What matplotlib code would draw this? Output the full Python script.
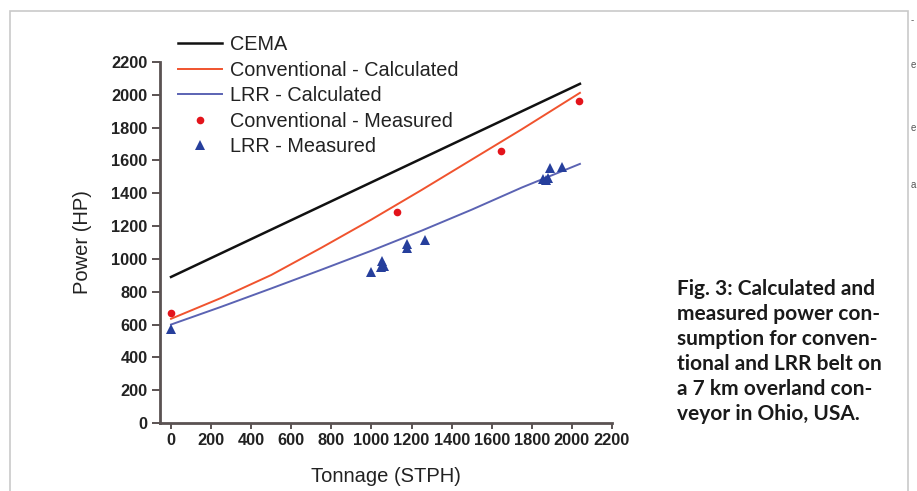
import numpy as np
import matplotlib.pyplot as plt
from matplotlib.patches import Rectangle

# calculated curves
cema_x = [0, 2040]
cema_y = [890, 2067]
conv_calc_x = [0, 250, 500, 750, 1000, 1250, 1500, 1750, 2040]
conv_calc_y = [635, 762, 902, 1068, 1240, 1420, 1605, 1790, 2012]
lrr_calc_x = [0, 250, 500, 750, 1000, 1250, 1500, 1750, 2040]
lrr_calc_y = [600, 708, 820, 934, 1050, 1172, 1300, 1435, 1579]

# measured points
conv_meas_x = [0, 1127, 1648, 2035]
conv_meas_y = [670, 1287, 1660, 1965]
lrr_meas_x = [0, 998, 1050, 1055, 1065, 1175, 1175, 1267, 1855, 1870, 1880, 1890, 1950]
lrr_meas_y = [575, 921, 950, 988, 958, 1065, 1090, 1116, 1490, 1480, 1494, 1555, 1558]

x_ticks = list(range(0, 2201, 200))
y_ticks = list(range(0, 2201, 200))

caption = ("Fig. 3: Calculated and\nmeasured power con-\nsumption for conven-\n"
           "tional and LRR belt on\na 7 km overland con-\nveyor in Ohio, USA.")

plt.rcParams['font.family'] = ['Liberation Sans', 'DejaVu Sans']

W, H = 917, 491
fig = plt.figure(figsize=(W / 100, H / 100), dpi=100)
ax = fig.add_axes([160 / W, (H - 423) / H, (612 - 160) / W, (423 - 62) / H])

ax.plot(cema_x, cema_y, color='#111111', lw=1.8, label='CEMA')
ax.plot(conv_calc_x, conv_calc_y, color='#f0532e', lw=1.4, label='Conventional - Calculated')
ax.plot(lrr_calc_x, lrr_calc_y, color='#5b63b3', lw=1.4, label='LRR - Calculated')
ax.plot(conv_meas_x, conv_meas_y, 'o', color='#e3141b', ms=5.5, mew=0,
        label='Conventional - Measured', clip_on=False)
ax.plot(lrr_meas_x, lrr_meas_y, '^', color='#263f9c', ms=7.5, mew=0,
        label='LRR - Measured', clip_on=False)

ax.set_xlim(-55, 2200)
ax.set_ylim(0, 2200)
ax.set_xticks(x_ticks)
ax.set_yticks(y_ticks)
for s in ['top', 'right']:
    ax.spines[s].set_visible(False)
for s in ['left', 'bottom']:
    ax.spines[s].set_color('#5a5252')
    ax.spines[s].set_linewidth(2.0)
ax.tick_params(axis='y', length=6, width=1.4, color='#5a5252', pad=3,
               labelsize=11.8, labelcolor='#222222')
ax.tick_params(axis='x', length=4, width=1.4, color='#5a5252', pad=3,
               labelsize=11.8, labelcolor='#222222')
for lab in ax.get_xticklabels() + ax.get_yticklabels():
    lab.set_fontweight('bold')

ax.set_xlabel('Tonnage (STPH)', fontsize=14.5, color='#222222', labelpad=14)
ax.set_ylabel('Power (HP)', fontsize=14.5, color='#222222', labelpad=14)

handles, labels = ax.get_legend_handles_labels()
fig.legend(handles, labels, loc='upper left', bbox_to_anchor=(178 / W, 1 - 35 / H),
           frameon=False, fontsize=14.3, handlelength=2.2, handletextpad=0.4,
           borderpad=0, borderaxespad=0, labelspacing=0.33, numpoints=1,
           labelcolor='#222222')

fig.text(677 / W, 1 - 279 / H, caption, family=['Lato', 'DejaVu Sans'], fontweight='bold',
         fontsize=15, va='top', ha='left', linespacing=1.31, color='#1a1a1a')

# frame around the figure panel
fig.add_artist(Rectangle((10 / W, -0.1), (908 - 10) / W, 1.1 - 11 / H,
                         transform=fig.transFigure, fill=False,
                         edgecolor='#c9c9c9', lw=1.2))

# fragments of neighbouring text at the page edge
for yy, ch in [(20, '-'), (65, 'e'), (128, 'e'), (185, 'a')]:
    fig.text(911 / W, 1 - yy / H, ch, fontsize=7, color='#555555', va='center', ha='left')

fig.savefig('out.png', dpi=100)
